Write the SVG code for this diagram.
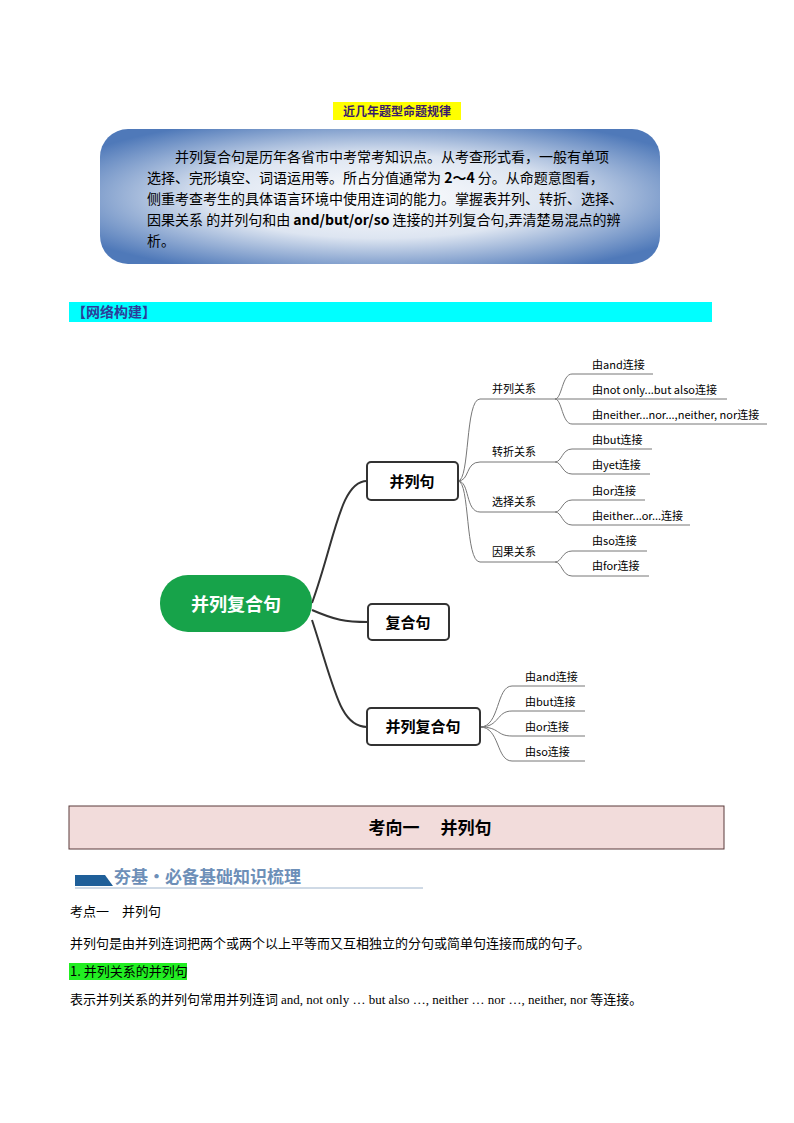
<svg xmlns="http://www.w3.org/2000/svg" width="794" height="1123" viewBox="0 0 794 1123">
<defs>
<radialGradient id="g" cx="0.5" cy="0.5" r="0.62">
<stop offset="0" stop-color="#ffffff"/><stop offset="0.5" stop-color="#dde5f1"/><stop offset="1" stop-color="#4f79b9"/>
</radialGradient>
</defs>
<style>
text{font-family:"Noto Sans CJK SC","Noto Sans",sans-serif;fill:#000}
.p{font-size:13px}
.s{font-size:11px;fill:#333}
.box{fill:#fff;stroke:#333;stroke-width:2}
.b{font-size:15px;font-weight:bold}
.c path,.c line{fill:none;stroke:#333;stroke-width:2}
.t path,.t line{fill:none;stroke:#777;stroke-width:1}
</style>
<rect width="794" height="1123" fill="#fff"/>
<rect x="333" y="102" width="128" height="18" fill="#ffff00"/>
<text x="397" y="116" text-anchor="middle" style="font-size:12px;font-weight:bold;fill:#3a1a6a">近几年题型命题规律</text>
<rect x="100" y="129" width="560" height="135" rx="28" fill="url(#g)"/>
<g class="p" style="font-size:14px">
<text x="175" y="162">并列复合句是历年各省市中考常考知识点。从考查形式看，一般有单项</text>
<text x="147" y="183">选择、完形填空、词语运用等。所占分值通常为 <tspan font-weight="bold">2～4</tspan> 分。从命题意图看，</text>
<text x="147" y="204">侧重考查考生的具体语言环境中使用连词的能力。掌握表并列、转折、选择、</text>
<text x="147" y="225">因果关系 的并列句和由 <tspan font-weight="bold">and/but/or/so</tspan> 连接的并列复合句,弄清楚易混点的辨</text>
<text x="147" y="246">析。</text>
</g>
<rect x="69" y="302" width="643" height="20" fill="#00ffff"/>
<text x="72" y="317" style="font-size:14px;font-weight:bold;fill:#2c3e9a">【网络构建】</text>

<g class="c">
<path d="M312,603 C335,540 340,481 367,481"/>
<path d="M312,610 C335,620 345,622 368,622"/>
<path d="M312,620 C335,690 340,727 367,727"/>
</g>
<g class="t">
<path d="M458,481 C470,481 465,399 480,399 L555,399"/>
<path d="M458,481 C470,481 465,462 480,462 L555,462"/>
<path d="M458,481 C470,481 465,512 480,512 L555,512"/>
<path d="M458,481 C470,481 465,562 480,562 L555,562"/>
<path d="M555,399 C562,399 562,374 572,374 L653,374"/>
<line x1="555" y1="399" x2="727" y2="399"/>
<path d="M555,399 C562,399 562,424 572,424 L767,424"/>
<path d="M555,462 C562,462 562,449 572,449 L652,449"/>
<path d="M555,462 C562,462 562,474 572,474 L650,474"/>
<path d="M555,512 C562,512 562,500 572,500 L645,500"/>
<path d="M555,512 C562,512 562,525 572,525 L690,525"/>
<path d="M555,562 C562,562 562,551 572,551 L647,551"/>
<path d="M555,562 C562,562 562,576 572,576 L649,576"/>
<path d="M480,727 C500,727 496,686 512,686 L585,686"/>
<path d="M480,727 C500,727 496,711 512,711 L585,711"/>
<path d="M480,727 C500,727 496,736 512,736 L585,736"/>
<path d="M480,727 C500,727 496,761 512,761 L585,761"/>
</g>
<g id="root"><rect x="160" y="575" width="152" height="57" rx="28" fill="#17a34a"/><text x="236" y="611" text-anchor="middle" style="font-size:18px;font-weight:bold;fill:#fff">并列复合句</text></g>
<g id="n1"><rect class="box" x="367" y="462" width="91" height="38" rx="4"/><text class="b" x="412" y="487" text-anchor="middle">并列句</text></g>
<g id="n2"><rect class="box" x="368" y="604" width="81" height="36" rx="4"/><text class="b" x="408" y="628" text-anchor="middle">复合句</text></g>
<g id="n3"><rect class="box" x="367" y="708" width="113" height="37" rx="4"/><text class="b" x="423" y="732" text-anchor="middle">并列复合句</text></g>
<g class="s">
<text x="492" y="393">并列关系</text><text x="492" y="456">转折关系</text><text x="492" y="506">选择关系</text><text x="492" y="556">因果关系</text>
<text x="592" y="369">由and连接</text><text x="592" y="394">由not only...but also连接</text><text x="592" y="419">由neither...nor...,neither, nor连接</text>
<text x="592" y="444">由but连接</text><text x="592" y="469">由yet连接</text><text x="592" y="495">由or连接</text><text x="592" y="520">由either...or...连接</text>
<text x="592" y="545">由so连接</text><text x="592" y="570">由for连接</text>
<text x="525" y="681">由and连接</text><text x="525" y="706">由but连接</text><text x="525" y="731">由or连接</text><text x="525" y="756">由so连接</text>
</g>

<rect x="69" y="806" width="655" height="43" fill="#f2dcdb" stroke="#5a3a3a"/>
<text x="430" y="834" text-anchor="middle" style="font-size:17px;font-weight:bold">考向一　 并列句</text>
<polygon points="75,875 105,875 113,886 75,886" fill="#1f5f99"/>
<line x1="75" y1="888" x2="423" y2="888" stroke="#9fb4cc" stroke-width="1"/>
<text x="114" y="883" style="font-family:'Noto Sans CJK SC',serif;font-size:17px;font-weight:bold;fill:#6d8fb8">夯基·必备基础知识梳理</text>
<text class="p" x="70" y="916">考点一　并列句</text>
<text class="p" x="70" y="948">并列句是由并列连词把两个或两个以上平等而又互相独立的分句或简单句连接而成的句子。</text>
<rect x="69" y="963" width="118" height="17" fill="#22ee22"/>
<text class="p" x="70" y="976">1. 并列关系的并列句</text>
<text class="p" x="70" y="1004">表示并列关系的并列句常用并列连词 <tspan style="font-family:'Liberation Serif',serif">and, not only … but also …, neither … nor …, neither, nor</tspan> 等连接。</text>
</svg>
